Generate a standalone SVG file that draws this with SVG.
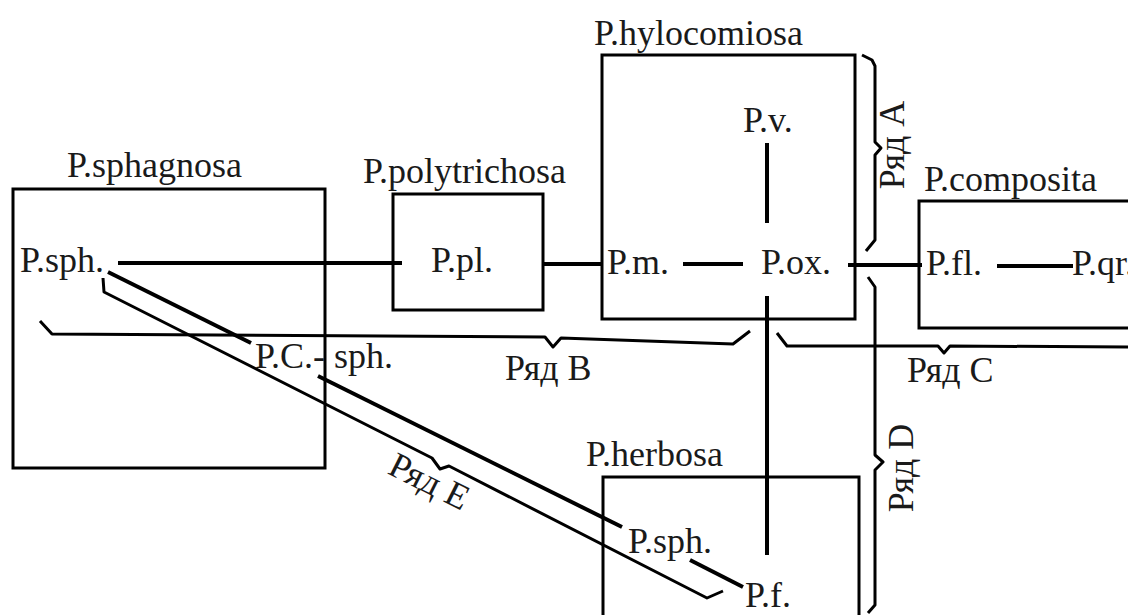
<svg xmlns="http://www.w3.org/2000/svg" width="1128" height="615" viewBox="0 0 1128 615">
<style>
.box{fill:none;stroke:#000;stroke-width:3}
.ln{fill:none;stroke:#000;stroke-width:4;stroke-linecap:butt}
.br{fill:none;stroke:#000;stroke-width:3;stroke-linejoin:round}
text{font-family:"Liberation Serif","Times New Roman",serif;font-size:36px;fill:#1a1a1a}
</style>
<rect width="1128" height="615" fill="#fff"/>
<g id="sphagnosa">
<rect class="box" x="13" y="189" width="312" height="279"/>
<text x="67" y="177">P.sphagnosa</text>
<text x="20" y="272">P.sph.</text>
<text x="255" y="368">P.C.- sph.</text>
</g>
<g id="polytrichosa">
<rect class="box" x="393" y="194" width="150" height="116"/>
<text x="363" y="183">P.polytrichosa</text>
<text x="431" y="272">P.pl.</text>
</g>
<g id="hylocomiosa">
<rect class="box" x="602" y="55" width="253" height="264"/>
<text x="594" y="45">P.hylocomiosa</text>
<text x="743" y="132">P.v.</text>
<text x="607" y="274">P.m.</text>
<text x="761" y="274">P.ox.</text>
</g>
<g id="composita">
<rect class="box" x="919" y="201" width="230" height="127"/>
<text x="924" y="191">P.composita</text>
<text x="926" y="275">P.fl.</text>
<text x="1072" y="275">P.qr.</text>
</g>
<g id="herbosa">
<rect class="box" x="603" y="477" width="256" height="160"/>
<text x="586" y="466">P.herbosa</text>
<text x="628" y="553">P.sph.</text>
<text x="745" y="607">P.f.</text>
</g>
<g id="connectors">
<line class="ln" x1="118" y1="263" x2="402" y2="263"/>
<line class="ln" x1="543" y1="264" x2="601" y2="264"/>
<line class="ln" x1="683" y1="264" x2="743" y2="264"/>
<line class="ln" x1="767" y1="143" x2="767" y2="223"/>
<line class="ln" x1="848" y1="265" x2="922" y2="265"/>
<line class="ln" x1="997" y1="266" x2="1073" y2="266"/>
<line class="ln" x1="767" y1="296" x2="767" y2="555"/>
<line class="ln" x1="108" y1="272" x2="251" y2="343"/>
<line class="ln" x1="318" y1="376" x2="622" y2="527"/>
<line class="ln" x1="690" y1="560" x2="743" y2="587"/>
</g>
<g id="braces">
<polyline class="br" points="103,278 104,292 432,458 440,469 449,466 707,598 723,591"/>
<polyline class="br" points="40,321 52,334 545,337 553,347 561,338 733,344 750,331"/>
<polyline class="br" points="777,333 787,346 938,346 944,353 950,346 1130,347"/>
<polyline class="br" points="862,55 872,60 875,66 875,142 881,148 875,155 875,240 866,251"/>
<polyline class="br" points="868,277 875,287 875,455 883,462 875,470 875,605 868,613"/>
<text x="505" y="380">Ряд B</text>
<text x="907" y="382">Ряд C</text>
<text transform="translate(904,145) rotate(-90)" text-anchor="middle">Ряд A</text>
<text transform="translate(913,468) rotate(-90)" text-anchor="middle">Ряд D</text>
<text transform="translate(424,492) rotate(26.6)" text-anchor="middle">Ряд E</text>
</g>
</svg>
